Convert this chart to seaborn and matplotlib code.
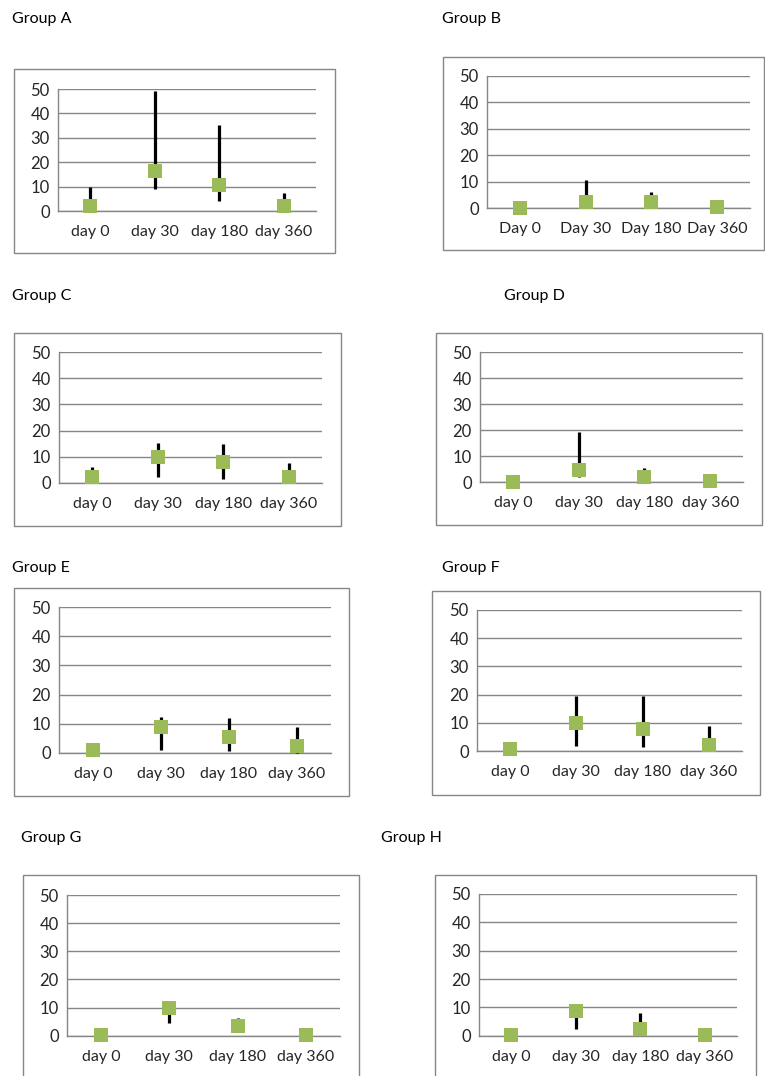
import matplotlib
matplotlib.use("Agg")
import matplotlib.pyplot as plt
import seaborn as sns
import pandas as pd
from matplotlib.patches import Rectangle

sns.set_style("white")
plt.rcParams['font.family'] = ['Lato', 'DejaVu Sans']

# ---------------- data ----------------
groups = ["Group A", "Group B", "Group C", "Group D",
          "Group E", "Group F", "Group G", "Group H"]
days_lower = ["day 0", "day 30", "day 180", "day 360"]
days_upper = ["Day 0", "Day 30", "Day 180", "Day 360"]
y_ticks = [0, 10, 20, 30, 40, 50]

mean_A = [2.0, 16.3, 10.5, 2.0]
low_A = [0.0, 9.2, 4.1, 0.0]
high_A = [9.8, 49.2, 35.1, 7.4]

mean_B = [0.0, 2.3, 2.3, 0.6]
low_B = [0.0, 0.0, 0.0, 0.0]
high_B = [0.0, 10.7, 6.3, 0.6]

mean_C = [2.0, 9.7, 7.8, 2.0]
low_C = [0.0, 2.0, 1.4, 0.0]
high_C = [6.1, 15.1, 14.7, 7.7]

mean_D = [0.0, 4.6, 2.1, 0.4]
low_D = [0.0, 2.0, 0.0, 0.0]
high_D = [0.0, 19.4, 5.3, 0.4]

mean_E = [1.1, 8.7, 5.3, 2.3]
low_E = [0.0, 1.1, 0.7, 0.0]
high_E = [1.1, 12.2, 12.0, 8.7]

mean_F = [0.6, 10.0, 7.7, 2.1]
low_F = [0.0, 1.9, 1.5, 0.0]
high_F = [0.6, 19.6, 19.6, 9.0]

mean_G = [0.2, 10.0, 3.6, 0.2]
low_G = [0.2, 4.4, 2.0, 0.2]
high_G = [0.2, 11.0, 6.2, 0.2]

mean_H = [0.2, 8.8, 2.4, 0.2]
low_H = [0.2, 2.4, 1.0, 0.2]
high_H = [0.2, 11.0, 8.0, 0.2]

means = [mean_A, mean_B, mean_C, mean_D, mean_E, mean_F, mean_G, mean_H]
lows = [low_A, low_B, low_C, low_D, low_E, low_F, low_G, low_H]
highs = [high_A, high_B, high_C, high_D, high_E, high_F, high_G, high_H]
labels = [days_lower, days_upper, days_lower, days_lower,
          days_lower, days_lower, days_lower, days_lower]

# ---------------- layout (pixels) ----------------
W, H = 765, 1076
# box (l, t, r, b), plot (l, t, r, b), title (x, baseline y)
layout = [
    ((14, 69, 335, 253), (58, 89, 316, 211), (12, 23)),
    ((443, 57, 764, 250), (487, 75.7, 750, 208.3), (442, 23)),
    ((14, 333, 341, 526), (59, 352.3, 322, 482.7), (12, 300)),
    ((436, 333, 762, 525), (480, 352.3, 743, 482), (504, 300)),
    ((14, 588, 349, 796), (59, 607.3, 331, 752.7), (12, 572)),
    ((432, 591, 760, 795), (477, 610, 742, 751), (442, 572)),
    ((23, 875, 359, 1090), (67, 895, 340, 1035.7), (21, 842)),
    ((435, 875, 756, 1090), (479, 894, 737, 1035.7), (381, 842)),
]

GRID = "#868686"
GREEN = "#9BBB59"
FS = 11.5

fig = plt.figure(figsize=(W / 100, H / 100), dpi=100)
fig.patch.set_facecolor("white")

for i, g in enumerate(groups):
    box, plot, title = layout[i]
    bl, bt, br, bb = box
    fig.patches.append(Rectangle((bl / W, 1 - bb / H), (br - bl) / W, (bb - bt) / H,
                                 transform=fig.transFigure, fill=False,
                                 edgecolor=GRID, linewidth=1.0))
    fig.text(title[0] / W, 1 - title[1] / H, g, fontsize=FS, va="baseline",
             ha="left", color="black")

    pl, pt, pr, pb = plot
    ax = fig.add_axes([pl / W, 1 - pb / H, (pr - pl) / W, (pb - pt) / H])
    df = pd.DataFrame({"x": list(range(4)), "mean": means[i],
                       "low": lows[i], "high": highs[i]})

    ax.vlines(df["x"], df["low"], df["high"], color="black", linewidth=2.3,
              zorder=3, clip_on=False)
    sns.scatterplot(data=df, x="x", y="mean", marker="s", s=110, color=GREEN,
                    edgecolor=GREEN, linewidth=0, ax=ax, zorder=4, clip_on=False,
                    legend=False)

    ax.set_xlim(-0.5, 3.5)
    ax.set_ylim(0, 50)
    ax.set_yticks(y_ticks)
    ax.set_yticklabels([str(t) for t in y_ticks], fontsize=FS + 0.5)
    ax.set_xticks([-0.5, 0.5, 1.5, 2.5, 3.5])
    ax.set_xticklabels([])
    ax.set_xticks([0, 1, 2, 3], minor=True)
    ax.set_xticklabels(labels[i], minor=True, fontsize=FS)
    ax.tick_params(axis="x", which="major", length=4, width=0.8, color=GRID,
                   direction="out")
    ax.tick_params(axis="x", which="minor", length=0, pad=10)
    ax.tick_params(axis="y", length=4, width=0.8, color=GRID, direction="out", pad=2)
    ax.set_xlabel("")
    ax.set_ylabel("")
    ax.grid(axis="y", color=GRID, linewidth=1.0)
    ax.grid(axis="x", visible=False)
    ax.set_axisbelow(True)
    for s in ["top", "right"]:
        ax.spines[s].set_visible(False)
    for s in ["left", "bottom"]:
        ax.spines[s].set_visible(True)
        ax.spines[s].set_color(GRID)
        ax.spines[s].set_linewidth(1.0)
    ax.set_facecolor("none")

fig.savefig("out.png", dpi=100, facecolor="white")
